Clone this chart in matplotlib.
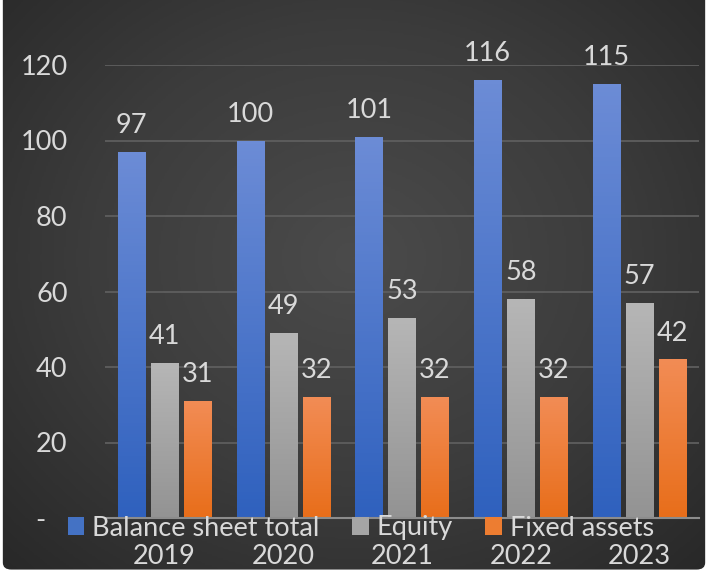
import numpy as np
import matplotlib
matplotlib.use("Agg")
import matplotlib.pyplot as plt
from matplotlib.colors import LinearSegmentedColormap
from matplotlib.patches import FancyBboxPatch, Patch

years = ["2019", "2020", "2021", "2022", "2023"]
balance_total = [97, 100, 101, 116, 115]
equity = [41, 49, 53, 58, 57]
fixed_assets = [31, 32, 32, 32, 42]
series_names = ["Balance sheet total", "Equity", "Fixed assets"]
y_ticks = [0, 20, 40, 60, 80, 100, 120]
y_tick_labels = ["-   ", "20", "40", "60", "80", "100", "120"]

plt.rcParams['font.family'] = ['Lato', 'DejaVu Sans']
FS = 19.5
TXT = "#d9d9d9"

W, H = 708, 573
fig = plt.figure(figsize=(W / 100, H / 100), dpi=100)
fig.patch.set_facecolor("white")

# background radial gradient
bg = fig.add_axes([0, 0, 1, 1], zorder=0)
bg.set_axis_off()
yy, xx = np.mgrid[0:1:300j, 0:1:400j]
r = np.sqrt(((xx - 0.5) / 0.75) ** 2 + ((yy - 0.55) / 0.8) ** 2)
bgcmap = LinearSegmentedColormap.from_list("bg", ["#4b4b4b", "#3c3c3c", "#262626"])
im = bg.imshow(np.clip(r, 0, 1), cmap=bgcmap, vmin=0, vmax=1, extent=[0, 1, 0, 1],
               aspect="auto", origin="lower")
clip = FancyBboxPatch((0.004, 0.006), 0.992, 1.2, boxstyle="round,pad=0,rounding_size=0.012",
                      transform=bg.transAxes, facecolor="none", edgecolor="none")
bg.add_patch(clip)
im.set_clip_path(clip)
bg.set_xlim(0, 1)
bg.set_ylim(0, 1)

ax = fig.add_axes([105 / W, 55 / H, 594 / W, 453 / H], zorder=1)
ax.patch.set_alpha(0)

x = np.arange(len(years))
bw = 0.228
step = 0.278
grads = [("#6c8cd6", "#2f61be"), ("#b6b6b6", "#939393"), ("#f28c55", "#e86e1a")]
solid = ["#4472c4", "#a5a5a5", "#ed7d31"]
all_vals = [balance_total, equity, fixed_assets]

grad = np.linspace(0, 1, 100).reshape(-1, 1)
for i, (vals, (ctop, cbot)) in enumerate(zip(all_vals, grads)):
    bars = ax.bar(x + (i - 1) * step, vals, width=bw, color=solid[i], zorder=3,
                  label=series_names[i])
    cm = LinearSegmentedColormap.from_list(f"g{i}", [cbot, ctop])
    for b, v in zip(bars, vals):
        b.set_facecolor("none")
        bx, by = b.get_x(), b.get_y()
        bwid, bh = b.get_width(), b.get_height()
        gi = ax.imshow(grad, cmap=cm, extent=[bx, bx + bwid, by, by + bh], origin="lower",
                       aspect="auto", zorder=3)
        gi.set_clip_path(b)
        ax.annotate(str(v), (bx + bwid / 2, by + bh), xytext=(0, 10), textcoords="offset points",
                    ha="center", va="bottom", fontsize=FS, color=TXT, zorder=5,
                    annotation_clip=False)
ax.set_xlim(-0.5, len(years) - 0.5)
ax.set_ylim(0, 120)

ax.set_yticks(y_ticks)
ax.set_yticklabels(y_tick_labels)
ax.set_xticks(x)
ax.set_xticklabels(years)
ax.tick_params(axis="y", length=0, pad=27, labelsize=FS, labelcolor=TXT)
ax.tick_params(axis="x", length=0, pad=19, labelsize=FS, labelcolor=TXT)
ax.grid(axis="y", color="#5e5e5e", linewidth=1.3, zorder=1)
ax.set_axisbelow(True)
for s in ["top", "right", "left"]:
    ax.spines[s].set_visible(False)
ax.spines["bottom"].set_color("#8c8c8c")
ax.spines["bottom"].set_linewidth(1.5)
ax.spines["bottom"].set_zorder(4)

handles = [Patch(facecolor=c, edgecolor="none") for c in solid]
leg = fig.legend(handles, series_names, loc="center", bbox_to_anchor=(361 / W, 1 - 528 / H),
                 ncol=3, frameon=False, fontsize=FS, labelcolor=TXT,
                 handlelength=0.6, handleheight=0.6, handletextpad=0.3, columnspacing=1.2,
                 borderpad=0)

fig.savefig("out.png", dpi=100)
